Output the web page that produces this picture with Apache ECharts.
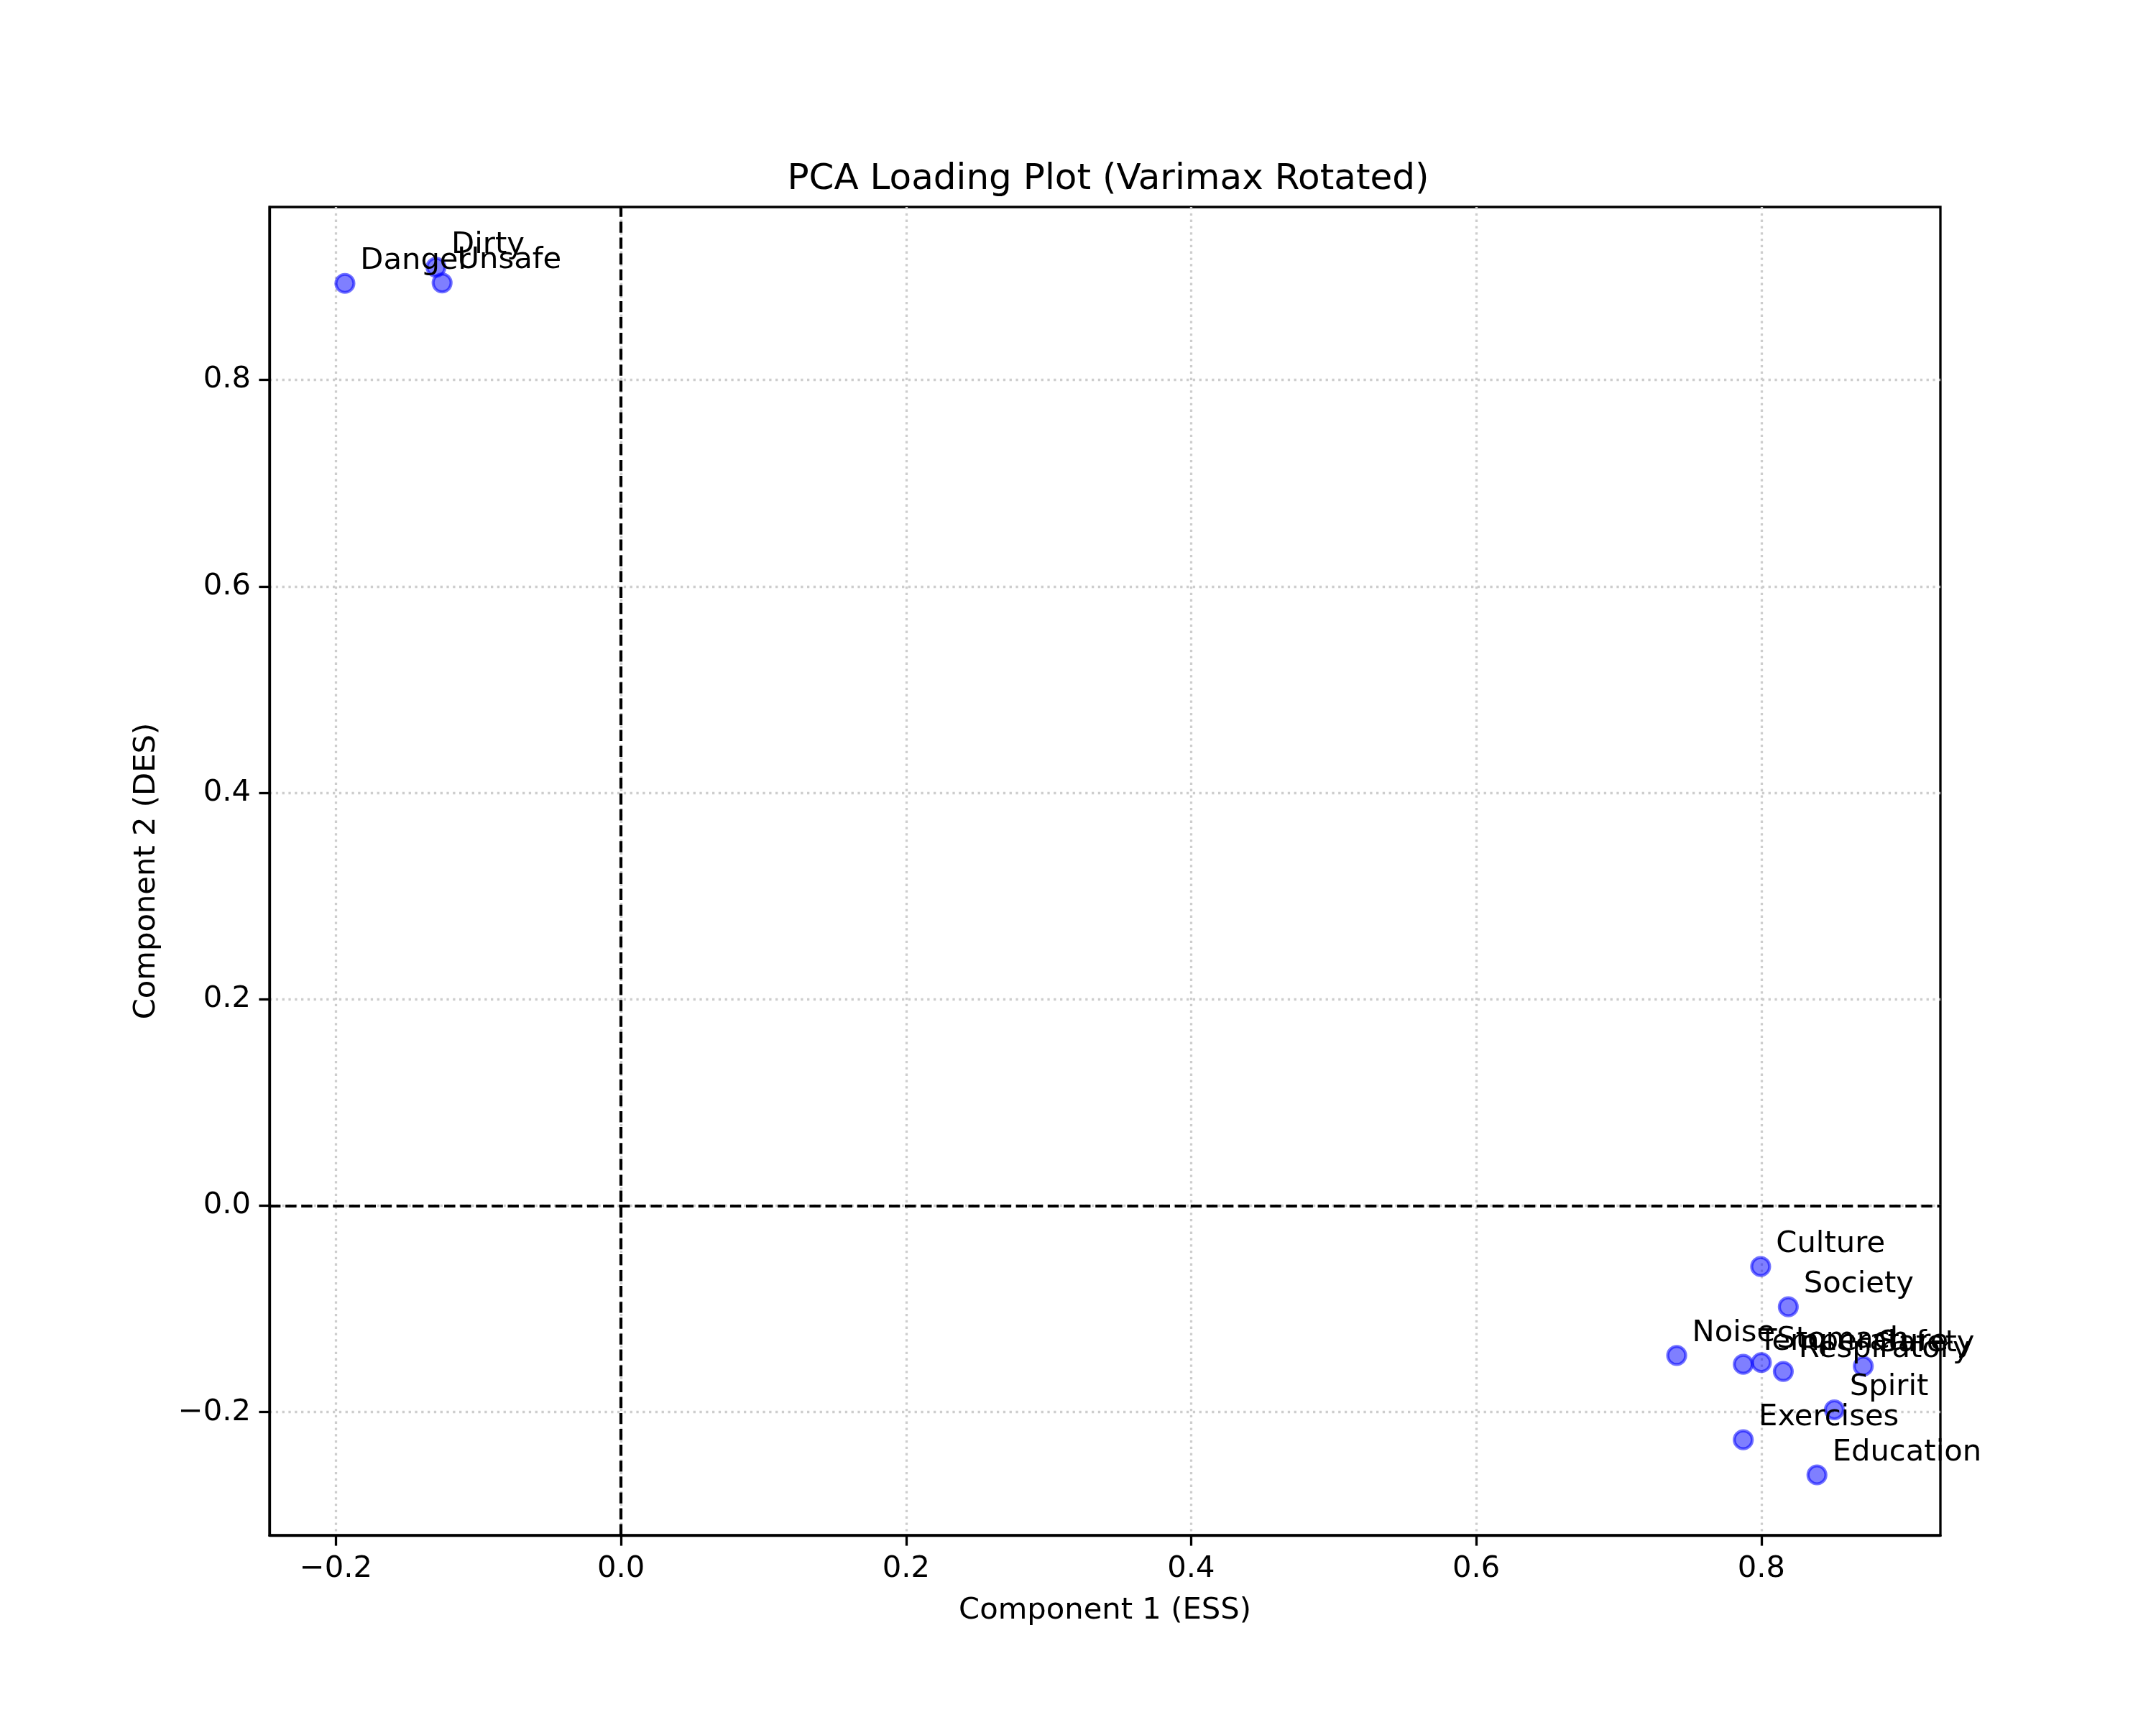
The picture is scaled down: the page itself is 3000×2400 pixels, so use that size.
<!DOCTYPE html>
<html>
<head>
<meta charset="utf-8">
<script src="https://cdn.jsdelivr.net/npm/echarts@6/dist/echarts.min.js"></script>
<style>
  html, body { margin: 0; padding: 0; background: #fff; }
  #chart { width: 3000px; height: 2400px; }
</style>
</head>
<body>
<div id="chart"></div>
<script>
// loading values
const names = ['Danger', 'Dirty', 'Unsafe', 'Culture', 'Society', 'Noise', 'Temperature',
  'Stomach', 'Respiratory', 'Safety', 'Spirit', 'Exercises', 'Education'];
const comp1 = [-0.1937, -0.1298, -0.1255, 0.7995, 0.8189, 0.7406, 0.7873,
  0.8000, 0.8154, 0.8715, 0.8512, 0.7873, 0.8390];
const comp2 = [0.8935, 0.9091, 0.8940, -0.0590, -0.0980, -0.1451, -0.1537,
  -0.1520, -0.1606, -0.1555, -0.1978, -0.2268, -0.2608];

const xTicks = [-0.2, 0.0, 0.2, 0.4, 0.6, 0.8];
const yTicks = [-0.2, 0.0, 0.2, 0.4, 0.6, 0.8];

const FONT = 'DejaVu Sans';
const fmt = v => (v < 0 ? '\u2212' : '') + Math.abs(v).toFixed(1);

const points = names.map((n, i) => ({ name: n, value: [comp1[i], comp2[i]] }));

const chart = echarts.init(document.getElementById('chart'), null, { renderer: 'canvas' });

const axisCommon = {
  type: 'value',
  nameLocation: 'middle',
  nameTextStyle: { fontFamily: FONT, fontSize: 41.7, color: '#000' },
  axisLine: { show: true, onZero: false, lineStyle: { color: '#000', width: 3.3 } },
  axisTick: { show: true, inside: false, length: 14.6, lineStyle: { color: '#000', width: 3.3 } },
  splitLine: { show: true, lineStyle: { color: '#cdcdcd', width: 3.3, type: [3.3, 5.5] } },
  axisLabel: { fontFamily: FONT, fontSize: 41.7, color: '#000', formatter: fmt }
};

chart.setOption({
  backgroundColor: '#fff',
  animation: false,
  title: {
    text: 'PCA Loading Plot (Varimax Rotated)',
    left: 1537,
    top: 220,
    textAlign: 'center',
    textStyle: { fontFamily: FONT, fontSize: 50, fontWeight: 'normal', color: '#000' }
  },
  grid: {
    left: 375, right: 300, top: 288, bottom: 264,
    show: true, borderColor: '#000', borderWidth: 3.3, containLabel: false
  },
  xAxis: Object.assign({}, axisCommon, {
    name: 'Component 1 (ESS)',
    nameGap: 84,
    min: -0.2466, max: 0.9256,
    axisTick: Object.assign({}, axisCommon.axisTick, { customValues: xTicks }),
    axisLabel: Object.assign({}, axisCommon.axisLabel, { customValues: xTicks, margin: 26 })
  }),
  yAxis: Object.assign({}, axisCommon, {
    name: 'Component 2 (DES)',
    nameGap: 150,
    min: -0.3193, max: 0.9675,
    axisTick: Object.assign({}, axisCommon.axisTick, { customValues: yTicks }),
    axisLabel: Object.assign({}, axisCommon.axisLabel, { customValues: yTicks, margin: 26 })
  }),
  series: [{
    type: 'scatter',
    data: points,
    symbol: 'circle',
    symbolSize: 25,
    itemStyle: { color: 'rgba(0,0,255,0.5)', borderColor: 'rgba(0,0,255,0.55)', borderWidth: 4.2, opacity: 1 },
    label: {
      show: true,
      formatter: p => p.name,
      position: [36, -16.5],
      align: 'left',
      verticalAlign: 'middle',
      fontFamily: FONT,
      fontSize: 41.7,
      color: '#000'
    },
    labelLayout: { hideOverlap: false },
    markLine: {
      silent: true,
      symbol: 'none',
      label: { show: false },
      lineStyle: { color: '#000', width: 4.2, type: [15.4, 6.7] },
      data: [{ xAxis: 0 }, { yAxis: 0 }]
    },
    z: 3
  }]
});
</script>
</body>
</html>
